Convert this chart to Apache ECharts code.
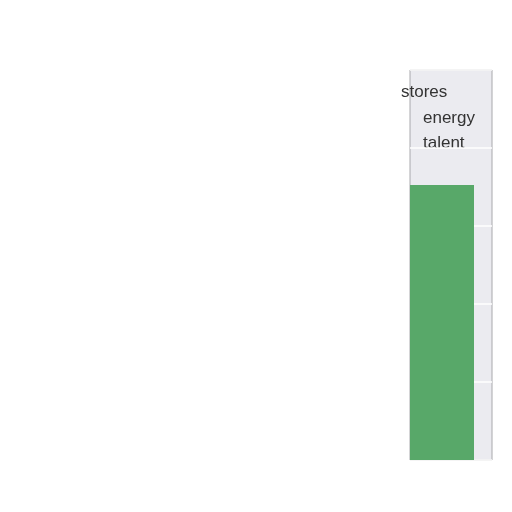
<!DOCTYPE html>
<html><head><meta charset="utf-8">
<script src="https://cdn.jsdelivr.net/npm/echarts@6/dist/echarts.min.js"></script>
<style>html,body{margin:0;padding:0;background:#fff}#c{width:512px;height:512px}</style>
</head><body><div id="c"></div>
<script>
const categories = ['stores'];
const barValues = [70.5];
const labels = ['stores', 'energy', 'talent'];
const yMin = 0, yMax = 100, yInterval = 20;

const chart = echarts.init(document.getElementById('c'));
chart.setOption({
  animation: false,
  grid: { left: 410, right: 20, top: 70, bottom: 52, show: true,
          backgroundColor: '#ebebf0', borderColor: '#a8a8ac', borderWidth: 1 },
  xAxis: { type: 'category', data: categories, axisLine: {show: false},
           axisTick: {show: false}, axisLabel: {show: false} },
  yAxis: { type: 'value', min: yMin, max: yMax, interval: yInterval,
           axisLine: {show: false}, axisTick: {show: false}, axisLabel: {show: false},
           splitLine: { lineStyle: { color: '#ffffff', width: 1.5 } } },
  graphic: [
    { type: 'text', left: 401, top: 84, style: { text: labels[0], fill: '#333', font: '17px "Liberation Sans"' } },
    { type: 'text', left: 423, top: 110, style: { text: labels[1], fill: '#333', font: '17px "Liberation Sans"' } },
    { type: 'text', left: 423, top: 135, style: { text: labels[2], fill: '#333', font: '17px "Liberation Sans"' } }
  ],
  series: [
    { type: 'bar', data: barValues, barWidth: 64, barGap: 0,
      itemStyle: { color: '#58a869' } },
    { type: 'bar', data: [null], barWidth: 18 }
  ]
});
</script></body></html>
